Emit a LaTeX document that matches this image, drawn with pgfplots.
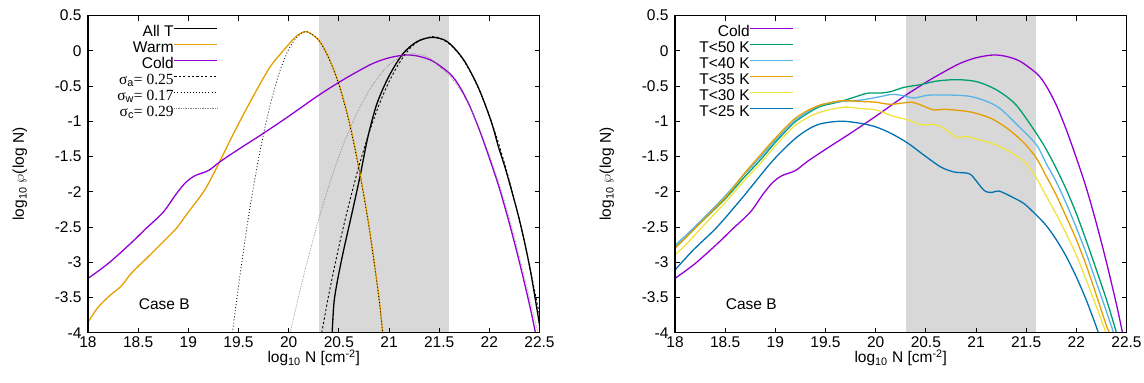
\documentclass[border=0pt]{standalone}
\usepackage{fontspec}
\setmainfont{Liberation Sans}
\newfontfamily\serif{Liberation Serif}
\usepackage{pgfplots}
\usepackage{pgfplotstable}
\pgfplotsset{compat=1.18}
\definecolor{cwarm}{HTML}{E69F00}
\definecolor{ccold}{HTML}{9400D3}
\definecolor{cfifty}{HTML}{009E73}
\definecolor{cforty}{HTML}{56B4E9}
\definecolor{cthirtyfive}{HTML}{E69F00}
\definecolor{cthirty}{HTML}{F0E442}
\definecolor{ctwentyfive}{HTML}{0072B2}
\definecolor{cshade}{HTML}{D8D8D8}

\pgfplotstableread{
x y
18 -3.23
18.2 -3.02
18.42 -2.74
18.58 -2.52
18.75 -2.29
18.88 -2.03
18.98 -1.86
19.07 -1.77
19.2 -1.70
19.32 -1.57
19.52 -1.38
19.75 -1.17
20.0 -0.93
20.28 -0.65
20.51 -0.44
20.68 -0.30
20.84 -0.18
21.0 -0.10
21.17 -0.06
21.3 -0.08
21.44 -0.15
21.61 -0.33
21.7 -0.50
21.8 -0.77
21.9 -1.12
22.0 -1.52
22.1 -1.95
22.2 -2.45
22.3 -3.00
22.4 -3.60
22.46 -4.00
22.48 -4.15
}\colddata

\pgfplotsset{
  myaxis/.style={
    scale only axis, width=451.5bp, height=317.2bp,
    xmin=18, xmax=22.5, ymin=-4, ymax=0.5,
    xtick={18,18.5,19,19.5,20,20.5,21,21.5,22,22.5},
    xticklabels={18,18.5,19,19.5,20,20.5,21,21.5,22,22.5},
    ytick={-4,-3.5,-3,-2.5,-2,-1.5,-1,-0.5,0,0.5},
    yticklabels={-4,-3.5,-3,-2.5,-2,-1.5,-1,-0.5,0,0.5},
    minor tick num=0,
    tick align=inside,
    major tick length=5bp,
    every tick/.style={black, line width=0.9bp},
    axis line style={line width=1.2bp},
    axis on top,
    font=\fontsize{15.5bp}{17bp}\selectfont,
    tick label style={font=\fontsize{15.5bp}{17bp}\selectfont},
    yticklabel style={xshift=-3bp},
    every axis x label/.style={at={(axis description cs:0.5,-0.0955)}, anchor=base},
    every axis y label/.style={at={(axis description cs:-0.142,0.5)}, rotate=90, anchor=base},
    xlabel={log\textsubscript{10} N [cm\textsuperscript{-2}]},
    ylabel={log\textsubscript{10} $\wp$(log N)},
    legend style={draw=none, fill=none, at={(axis description cs:0,1)}, anchor=north east,
      xshift=130bp, yshift=-10.3bp, inner sep=0pt, outer sep=0pt, row sep=0pt, column sep=0pt,
      nodes={inner sep=0pt, text height=11bp, text depth=5bp},
      font=\fontsize{15.5bp}{17bp}\selectfont},
    legend cell align=right,
    legend plot pos=right,
    legend image code/.code={\draw[#1] (11bp,5bp) -- (54bp,5bp);},
    every axis plot/.append style={line width=1.3bp, smooth, tension=0.5},
  }
}

\begin{document}
\begin{tikzpicture}
\useasboundingbox (0,0) rectangle (1144bp,383bp);
% ---------------- left panel ----------------
\begin{axis}[myaxis, at={(88bp,50.3bp)}, anchor=south west]
\addplot[fill=cshade, draw=none, forget plot, sharp plot] coordinates {(20.3,-4) (20.3,0.5) (21.6,0.5) (21.6,-4)};
\addplot[black] coordinates {(20.43,-4.1)(20.45,-3.6)(20.48,-3.31)(20.54,-2.88)(20.63,-2.31)(20.71,-1.79)(20.79,-1.22)(20.88,-0.75)(21.0,-0.36)(21.14,-0.04)(21.28,0.13)(21.43,0.19)(21.58,0.13)(21.74,-0.12)(21.89,-0.52)(22.02,-1.01)(22.09,-1.36)(22.17,-1.72)(22.3,-2.4)(22.4,-3.05)(22.49,-3.8)(22.52,-4.1)};
\addlegendentry{All T}
\addplot[cwarm] coordinates {(18,-3.85)(18.1,-3.64)(18.22,-3.47)(18.33,-3.34)(18.43,-3.16)(18.58,-2.95)(18.75,-2.71)(18.88,-2.52)(19.0,-2.29)(19.17,-1.96)(19.32,-1.55)(19.47,-1.12)(19.63,-0.69)(19.81,-0.24)(19.97,0.04)(20.08,0.21)(20.18,0.27)(20.3,0.15)(20.4,-0.1)(20.5,-0.47)(20.6,-0.98)(20.7,-1.66)(20.8,-2.48)(20.9,-3.5)(20.95,-4.2)};
\addlegendentry{Warm}
\addplot[ccold] table {\colddata};
\addlegendentry{Cold}
\addplot[black, line width=0.9bp, dash pattern=on 2.2bp off 2.2bp] coordinates {(20.33,-4.0)(20.4,-3.46)(20.5,-2.78)(20.6,-2.18)(20.7,-1.64)(20.8,-1.17)(20.9,-0.77)(21.0,-0.44)(21.1,-0.18)(21.2,0.02)(21.3,0.14)(21.43,0.2)(21.5,0.18)(21.6,0.10)(21.7,-0.05)(21.8,-0.27)(21.9,-0.56)(22.0,-0.92)(22.1,-1.35)(22.2,-1.85)(22.3,-2.41)(22.4,-3.05)(22.5,-3.75)(22.54,-4.05)};
\addlegendentry{{\serif σ}\textsubscript{a}{\serif = 0.25}}
\addplot[black, line width=0.8bp, dash pattern=on 0.9bp off 2.2bp] coordinates {(19.44,-4.0)(19.5,-3.34)(19.6,-2.35)(19.7,-1.53)(19.8,-0.86)(19.9,-0.34)(20.0,0.02)(20.1,0.22)(20.18,0.27)(20.3,0.15)(20.4,-0.11)(20.5,-0.48)(20.6,-1.0)(20.7,-1.68)(20.8,-2.5)(20.9,-3.52)(20.95,-4.2)};
\addlegendentry{{\serif σ}\textsubscript{w}{\serif = 0.17}}
\addplot[gray, line width=0.7bp, dash pattern=on 0.6bp off 1.1bp] coordinates {(20.0,-4.1)(20.1,-3.48)(20.2,-2.91)(20.3,-2.39)(20.4,-1.92)(20.5,-1.50)(20.6,-1.14)(20.7,-0.83)(20.8,-0.57)(20.9,-0.36)(21.0,-0.20)(21.1,-0.10)(21.25,-0.04)(21.4,-0.10)(21.5,-0.22)(21.6,-0.35)(21.7,-0.53)(21.8,-0.78)(21.9,-1.10)(22.0,-1.48)(22.1,-1.90)(22.2,-2.38)(22.3,-2.92)(22.4,-3.5)(22.5,-4.1)};
\addlegendentry{{\serif σ}\textsubscript{c}{\serif = 0.29}}
\node[anchor=center] at (axis cs:18.76,-3.6) {Case B};
\end{axis}
% ---------------- right panel ----------------
\begin{axis}[myaxis, at={(675bp,50.3bp)}, anchor=south west, legend style={xshift=-11bp}]
\addplot[fill=cshade, draw=none, forget plot, sharp plot] coordinates {(20.3,-4) (20.3,0.5) (21.6,0.5) (21.6,-4)};
\addplot[ccold] table {\colddata};
\addlegendentry{Cold}
\addplot[cfifty] coordinates {(18,-2.79)(18.1,-2.66)(18.18,-2.54)(18.35,-2.31)(18.52,-2.07)(18.68,-1.81)(18.85,-1.55)(19.0,-1.30)(19.18,-1.03)(19.32,-0.89)(19.45,-0.79)(19.65,-0.72)(19.85,-0.63)(19.93,-0.60)(20.05,-0.60)(20.15,-0.58)(20.28,-0.52)(20.45,-0.48)(20.61,-0.43)(20.81,-0.41)(21.01,-0.44)(21.21,-0.56)(21.4,-0.77)(21.6,-1.17)(21.7,-1.40)(21.8,-1.67)(21.9,-1.97)(22.0,-2.31)(22.1,-2.70)(22.2,-3.11)(22.3,-3.53)(22.4,-4.0)(22.42,-4.1)};
\addlegendentry{T<50 K}
\addplot[cforty] coordinates {(18,-2.76)(18.1,-2.63)(18.18,-2.52)(18.35,-2.28)(18.52,-2.03)(18.68,-1.77)(18.85,-1.51)(19.0,-1.27)(19.18,-1.01)(19.32,-0.87)(19.45,-0.77)(19.65,-0.72)(19.85,-0.70)(20.05,-0.65)(20.15,-0.62)(20.25,-0.63)(20.38,-0.67)(20.53,-0.63)(20.78,-0.63)(20.95,-0.65)(21.11,-0.72)(21.24,-0.82)(21.41,-1.05)(21.6,-1.33)(21.7,-1.6)(21.8,-1.86)(21.9,-2.17)(22.0,-2.51)(22.1,-2.88)(22.2,-3.29)(22.3,-3.70)(22.37,-4.0)(22.39,-4.1)};
\addlegendentry{T<40 K}
\addplot[cthirtyfive] coordinates {(18,-2.80)(18.1,-2.66)(18.18,-2.55)(18.35,-2.30)(18.52,-2.05)(18.68,-1.76)(18.85,-1.48)(19.0,-1.24)(19.18,-0.98)(19.32,-0.85)(19.45,-0.77)(19.65,-0.71)(19.85,-0.72)(20.0,-0.73)(20.15,-0.76)(20.35,-0.73)(20.45,-0.77)(20.58,-0.84)(20.68,-0.83)(20.85,-0.85)(20.98,-0.88)(21.15,-0.96)(21.31,-1.10)(21.48,-1.31)(21.6,-1.52)(21.7,-1.78)(21.8,-2.05)(21.9,-2.36)(22.0,-2.68)(22.1,-3.05)(22.2,-3.47)(22.3,-3.9)(22.33,-4.0)(22.35,-4.1)};
\addlegendentry{T<35 K}
\addplot[cthirty] coordinates {(18,-2.90)(18.1,-2.76)(18.18,-2.64)(18.35,-2.38)(18.52,-2.12)(18.68,-1.86)(18.85,-1.60)(19.0,-1.35)(19.18,-1.08)(19.32,-0.95)(19.45,-0.87)(19.68,-0.80)(19.85,-0.82)(20.0,-0.84)(20.18,-0.93)(20.32,-0.98)(20.45,-1.05)(20.61,-1.05)(20.75,-1.17)(20.81,-1.23)(20.91,-1.22)(21.05,-1.27)(21.21,-1.34)(21.38,-1.47)(21.5,-1.6)(21.6,-1.8)(21.7,-2.06)(21.8,-2.32)(21.9,-2.6)(22.0,-2.9)(22.1,-3.26)(22.2,-3.63)(22.3,-4.02)};
\addlegendentry{T<30 K}
\addplot[ctwentyfive] coordinates {(18,-3.11)(18.18,-2.83)(18.42,-2.50)(18.68,-2.07)(18.98,-1.55)(19.22,-1.22)(19.42,-1.05)(19.65,-1.00)(19.85,-1.03)(20.0,-1.08)(20.15,-1.17)(20.32,-1.31)(20.48,-1.48)(20.65,-1.65)(20.78,-1.72)(20.86,-1.73)(20.95,-1.76)(21.08,-1.98)(21.16,-2.01)(21.23,-1.99)(21.38,-2.09)(21.48,-2.17)(21.6,-2.33)(21.7,-2.48)(21.8,-2.68)(21.9,-2.92)(22.0,-3.21)(22.1,-3.54)(22.2,-3.92)(22.23,-4.05)};
\addlegendentry{T<25 K}
\node[anchor=center] at (axis cs:18.76,-3.6) {Case B};
\end{axis}
\end{tikzpicture}
\end{document}
